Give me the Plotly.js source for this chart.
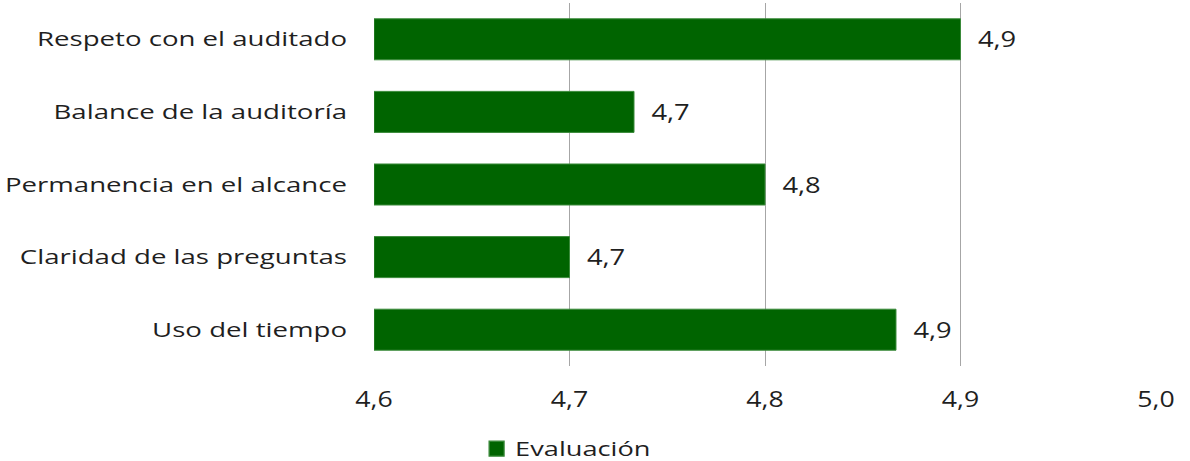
<!DOCTYPE html>
<html><head><meta charset="utf-8">
<script src="https://cdn.plot.ly/plotly-3.0.1.min.js"></script>
<style>html,body{margin:0;padding:0;background:#fff}#chart{width:1190px;height:461px}</style>
</head><body><div id="chart"></div>
<script>
const categories = ["Respeto con el auditado","Balance de la auditoría","Permanencia en el alcance","Claridad de las preguntas","Uso del tiempo"];
const values = [4.90, 4.733, 4.80, 4.70, 4.867];
const seriesName = "Evaluación";
const axisBase = 4.6;
const xTicks = [4.6, 4.7, 4.8, 4.9, 5.0];
const xTickLabels = ["4,6","4,7","4,8","4,9","5,0"];

const NB = '\u00A0';
const trace = {
  type: 'bar', orientation: 'h', name: seriesName,
  y: categories, x: values.map(v => v - axisBase), base: axisBase,
  marker: {color: '#006400', line: {color: '#3a8a3a', width: 1}},
  text: values.map(v => NB + NB + NB + v.toFixed(1).replace('.', ',')),
  texttemplate: '%{text}', textposition: 'outside', cliponaxis: false,
  textfont: {family: 'Open Sans', size: 21, color: '#1f1f1f'},
  hoverinfo: 'none'
};

const layout = {
  width: 1190, height: 461,
  margin: {l: 374, r: 34, t: 3, b: 95, autoexpand: false},
  paper_bgcolor: '#fff', plot_bgcolor: '#fff',
  bargap: 0.435,
  font: {family: 'Open Sans', size: 20, color: '#1f1f1f'},
  xaxis: {range: [4.6, 5.0], tickvals: xTicks, ticktext: xTickLabels,
          tickfont: {family: 'Open Sans', size: 21, color: '#1f1f1f'},
          showgrid: true, gridcolor: '#a6a6a6', gridwidth: 1, zeroline: false,
          showline: false, ticks: '', ticklabelstandoff: 19, fixedrange: true},
  yaxis: {autorange: 'reversed', type: 'category', showgrid: false, zeroline: false,
          showline: false, ticks: '', ticklabelstandoff: 26,
          tickfont: {family: 'Open Sans', size: 20, color: '#1f1f1f'}},
  showlegend: true,
  legend: {orientation: 'h', x: 0.222, xanchor: 'center', y: -0.174, yanchor: 'top',
           font: {family: 'Open Sans', size: 20, color: '#1f1f1f'}, bgcolor: 'rgba(0,0,0,0)'}
};

function stretch(sel, k) {
  document.querySelectorAll(sel).forEach(t => {
    const w = t.getComputedTextLength();
    if (w > 0) {
      t.setAttribute('textLength', (w * k).toFixed(1));
      t.setAttribute('lengthAdjust', 'spacingAndGlyphs');
    }
  });
}
Plotly.newPlot('chart', [trace], layout, {displayModeBar: false, staticPlot: true}).then(() => {
  stretch('#chart .ytick text', 1.38);
  stretch('#chart .xtick text', 1.27);
  stretch('#chart text.bartext', 1.3);
  stretch('#chart text.legendtext', 1.36);
  document.querySelectorAll('#chart .legend [clip-path]').forEach(e => e.removeAttribute('clip-path'));
  document.querySelectorAll('#chart .legend .legendpoints path').forEach(p => {
    const t0 = p.getAttribute('transform') || '';
    p.setAttribute('transform', t0 + ' translate(1.5,0) scale(1.25)');
  });
});
</script></body></html>
